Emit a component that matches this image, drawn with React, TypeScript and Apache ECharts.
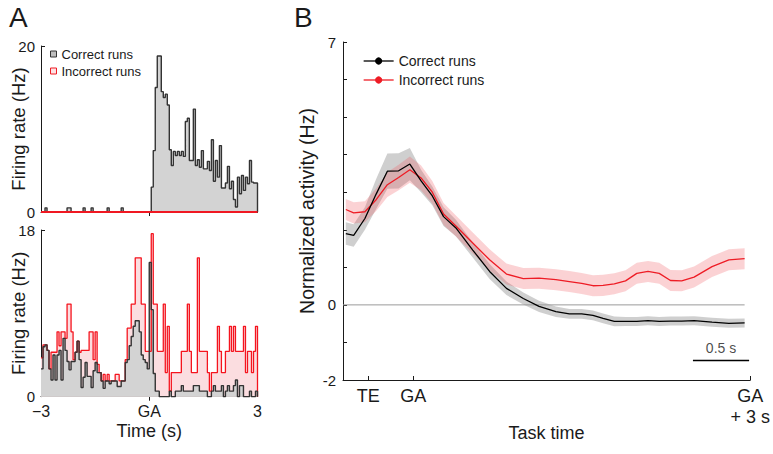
import React, { useEffect, useRef } from "react";
import * as echarts from "echarts";

// ---------- Panel A: peri-event histograms (bins of 1/18 s from -3 s to +3 s around GA) ----------
const BIN_WIDTH = 1 / 18;
const HIST_START = -3;

const topCorrectRate = [
  0, 0, 0.5, 0, 0, 0, 0, 0, 0, 0,
  0, 0, 0, 0.5, 0.5, 0, 0, 0, 0, 0,
  0, 0.5, 0, 0, 0, 0.5, 0, 0, 0, 0,
  0, 0, 0, 0.5, 0, 0, 0, 0, 0, 0,
  0.5, 0, 0, 0, 0, 0, 0, 0, 0, 0,
  0, 0, 0, 0,
  0, 3, 7.4, 15, 18.8, 18.8, 14.5, 13.8, 14.2, 12.9,
  7.5, 5.6, 7.3, 6.8, 7.3, 6.8, 7.3, 6.7, 10.9, 11.3,
  6.2, 6.2, 12.4, 5.6, 6.3, 5.4, 7.4, 5.2, 5.2, 6.1,
  5.0, 8.7, 3.7, 6.2, 4.2, 8.0, 2.9, 2.9, 3.5, 5.5,
  2.8, 3.7, 1.5, 0.6, 4.2, 2.2, 4.4, 2.6, 4.2, 3.4,
  6.2, 3.6, 3.5, 3.5,
];

const topIncorrectRate = [
  0, 0, 0, 0, 0, 0, 0, 0, 0, 0,
  0, 0, 0, 0, 0, 0, 0, 0, 0, 0,
  0, 0, 0, 0, 0, 0, 0, 0, 0, 0,
  0, 0, 0, 0, 0, 0, 0, 0, 0, 0,
  0, 0, 0, 0, 0, 0, 0, 0, 0, 0,
  0, 0, 0, 0, 0, 0, 0, 0, 0, 0,
  0, 0, 0, 0, 0, 0, 0, 0, 0, 0,
  0, 0, 0, 0, 0, 0, 0, 0, 0, 0,
  0, 0, 0, 0, 0, 0, 0, 0, 0, 0,
  0, 0, 0, 0, 0, 0, 0, 0, 0, 0,
  0, 0, 0, 0, 0, 0, 0, 0,
];

const bottomCorrectRate = [
  3.0, 5.4, 5.6, 5.0, 3.0, 1.8, 4.5, 1.8, 4.5, 5.0,
  1.8, 6.3, 5.0, 3.8, 2.9, 3.8, 3.8, 4.8, 6.0, 4.0,
  1.0, 2.1, 3.7, 2.2, 2.2, 1.0, 2.8, 3.7, 2.6, 2.6,
  1.7, 0.9, 1.7, 1.7, 1.4, 1.7, 1.7, 1.7, 1.1, 1.1,
  1.7, 1.7, 3.7, 4.0, 5.5, 6.5, 7.6, 8.2, 8.2, 7.0,
  4.5, 4.0, 3.7, 3.0,
  14.5, 9.4, 2.5, 0.6, 0.6, 0, 0, 0, 0, 0,
  0.6, 0, 0, 0.6, 0.6, 0.6, 1.2, 0.6, 0.6, 0.6,
  0.6, 0.6, 1.2, 1.2, 1.2, 0.6, 0.6, 0.6, 0.6, 0,
  0, 0.6, 1.2, 0.6, 0.6, 0.6, 1.2, 0, 0.6, 1.2,
  0.6, 0.6, 1.2, 1.8, 0, 1.2, 1.2, 0, 0, 0,
  0.6, 0, 0, 0.6,
];

const bottomIncorrectRate = [
  4.2, 5.6, 5.6, 5.0, 3.0, 4.8, 4.8, 4.8, 7.0, 5.5,
  7.0, 7.0, 6.3, 10.0, 10.0, 7.0, 4.0, 4.8, 6.0, 4.8,
  5.0, 5.0, 5.0, 5.0, 7.0, 7.0, 4.0, 7.0, 3.5, 2.6,
  1.7, 2.4, 1.7, 2.4, 1.7, 1.7, 1.7, 2.4, 2.4, 1.7,
  1.7, 1.7, 4.0, 7.4, 7.4, 10.0, 10.0, 15.0, 15.0, 15.0,
  10.0, 10.0, 4.9, 4.9,
  4.9, 17.6, 10.0, 10.0, 4.9, 4.9, 4.9, 10.0, 2.6, 7.6,
  0.6, 2.6, 2.6, 2.6, 2.6, 2.6, 4.9, 4.9, 4.9, 10.0,
  4.9, 2.6, 2.6, 2.6, 15.0, 4.9, 4.9, 4.9, 4.9, 2.6,
  0.6, 2.6, 2.6, 2.6, 7.6, 4.9, 2.6, 2.6, 4.9, 4.9,
  7.6, 4.9, 7.6, 4.9, 4.9, 4.9, 4.9, 7.6, 2.6, 4.9,
  4.9, 2.6, 4.9, 7.6,
];

const histTickValues = [-3, 0, 3];
const histTickLabels = ["\u22123", "GA", "3"];

// ---------- Panel B: normalized population activity (time in s relative to GA) ----------
const taskTime = [
  -0.6, -0.53, -0.43, -0.33, -0.23, -0.13, -0.03, 0.07, 0.17, 0.27,
  0.38, 0.53, 0.68, 0.83, 0.98, 1.12, 1.27, 1.39, 1.5, 1.6,
  1.69, 1.79, 1.89, 1.99, 2.09, 2.19, 2.29, 2.39, 2.5, 2.66,
  2.81, 2.95,
];
const correctMean = [
  1.9, 1.85, 2.3, 2.95, 3.56, 3.57, 3.75, 3.3, 2.9, 2.35,
  2.05, 1.46, 0.89, 0.44, 0.17, -0.04, -0.18, -0.24, -0.24, -0.28,
  -0.36, -0.44, -0.44, -0.44, -0.42, -0.44, -0.43, -0.43, -0.42, -0.46,
  -0.49, -0.48,
];
const correctSem = [
  0.3, 0.3, 0.3, 0.4, 0.47, 0.47, 0.43, 0.3, 0.25, 0.25,
  0.22, 0.2, 0.2, 0.18, 0.16, 0.15, 0.14, 0.13, 0.13, 0.13,
  0.13, 0.13, 0.12, 0.12, 0.12, 0.12, 0.12, 0.12, 0.12, 0.12,
  0.12, 0.12,
];
const incorrectMean = [
  2.54, 2.45, 2.48, 2.8, 3.2, 3.39, 3.6, 3.38, 3.0, 2.42,
  2.1, 1.65, 1.2, 0.82, 0.7, 0.71, 0.67, 0.62, 0.57, 0.51,
  0.52, 0.56, 0.64, 0.84, 0.89, 0.84, 0.65, 0.64, 0.74, 1.02,
  1.2, 1.23,
];
const incorrectSem = [
  0.28, 0.28, 0.28, 0.3, 0.33, 0.34, 0.35, 0.33, 0.3, 0.29,
  0.28, 0.28, 0.28, 0.28, 0.28, 0.28, 0.28, 0.28, 0.28, 0.28,
  0.28, 0.28, 0.28, 0.28, 0.28, 0.28, 0.28, 0.28, 0.28, 0.28,
  0.28, 0.28,
];

const taskTickValues = [-0.4, 0, 3];
const taskTickLabels = ["TE", "GA", "GA\n+ 3 s"];
const activityLabelValues = [7, 0, -2];
const TASK_MIN = -0.625;
const TASK_MAX = 3;
const SCALE_BAR = { from: 2.49, to: 2.99, level: -1.48, label: "0.5 s" };

const FONT = "'Liberation Sans', Arial, Helvetica, sans-serif";
const INK = "#1a1a1a";
const RED = "#ee1c25";

function histSteps(values: number[]) {
  const pts: number[][] = values.map((v, i) => [HIST_START + i * BIN_WIDTH, v]);
  const end = HIST_START + values.length * BIN_WIDTH;
  pts.push([end, values[values.length - 1]]);
  pts.push([end, 0]);
  return pts;
}

function pickLabel(values: number[], labels: string[], v: number) {
  for (let i = 0; i < values.length; i++) {
    if (Math.abs(values[i] - v) < 1e-6) return labels[i];
  }
  return "";
}

function bandSeries(name: string, mean: number[], sem: number[], fill: string) {
  return {
    name,
    type: "custom",
    xAxisIndex: 2,
    yAxisIndex: 2,
    silent: true,
    data: taskTime.map((t, i) => [t, mean[i] - sem[i], mean[i] + sem[i]]),
    encode: { x: 0, y: [1, 2] },
    renderItem: (params: any, api: any) => {
      if (params.dataIndex !== 0) return null;
      const pts: number[][] = [];
      for (let i = 0; i < taskTime.length; i++) pts.push(api.coord([taskTime[i], mean[i] + sem[i]]));
      for (let i = taskTime.length - 1; i >= 0; i--) pts.push(api.coord([taskTime[i], mean[i] - sem[i]]));
      return { type: "polygon", shape: { points: pts }, style: { fill, stroke: "none" }, silent: true };
    },
  };
}

const axisLineStyle = { show: true, onZero: false, lineStyle: { color: INK, width: 1 } };

export default function App() {
  const ref = useRef<HTMLDivElement>(null);

  useEffect(() => {
    document.body.style.margin = "0";
    if (!ref.current) return;
    const chart = echarts.init(ref.current, null, { renderer: "svg" });

    const option: any = {
      animation: false,
      textStyle: { fontFamily: FONT, color: INK },
      title: [
        { text: "A", left: 9, top: 3, padding: 0, textStyle: { fontSize: 28, fontWeight: "normal", color: INK, fontFamily: FONT } },
        { text: "B", left: 294, top: 3, padding: 0, textStyle: { fontSize: 28, fontWeight: "normal", color: INK, fontFamily: FONT } },
      ],
      legend: [
        {
          left: 50,
          top: 47.5,
          padding: 0,
          orient: "vertical",
          itemWidth: 6,
          itemHeight: 6,
          itemGap: 4,
          selectedMode: false,
          textStyle: { fontSize: 13, color: INK, fontFamily: FONT },
          data: [
            { name: "Correct runs", icon: "rect", itemStyle: { color: "#bdbdbd", borderColor: "#333", borderWidth: 1 } },
            { name: "Incorrect runs", icon: "rect", itemStyle: { color: "#fde2e4", borderColor: RED, borderWidth: 1 } },
          ],
        },
        {
          left: 363,
          top: 54,
          padding: 0,
          orient: "vertical",
          itemWidth: 30,
          itemHeight: 9,
          itemGap: 5,
          selectedMode: false,
          textStyle: { fontSize: 14, color: INK, fontFamily: FONT },
          data: [
            { name: "Correct runs", itemStyle: { color: "#000", borderWidth: 0 }, lineStyle: { color: "#000", width: 1.3 } },
            { name: "Incorrect runs", itemStyle: { color: RED, borderWidth: 0 }, lineStyle: { color: RED, width: 1.3 } },
          ],
        },
      ],
      grid: [
        { left: 41, top: 46, width: 216.5, height: 166 },
        { left: 41, top: 230, width: 216.5, height: 166.7 },
        { left: 343, top: 42, width: 408.7, height: 338 },
      ],
      xAxis: [
        {
          gridIndex: 0, type: "value", min: -3, max: 3, interval: 3,
          axisLine: axisLineStyle,
          axisTick: { show: true, customValues: [0], length: 4, lineStyle: { color: INK } },
          axisLabel: { show: false },
          splitLine: { show: false },
        },
        {
          gridIndex: 1, type: "value", min: -3, max: 3, interval: 3,
          axisLine: axisLineStyle,
          axisTick: { show: true, customValues: [0], length: 4, lineStyle: { color: INK } },
          axisLabel: {
            fontSize: 16, color: INK, margin: 7,
            formatter: (v: number) => pickLabel(histTickValues, histTickLabels, v),
          },
          splitLine: { show: false },
          name: "Time (s)", nameLocation: "middle", nameGap: 25, nameMoveOverlap: false,
          nameTextStyle: { fontSize: 18, color: INK },
        },
        {
          gridIndex: 2, type: "value", min: TASK_MIN, max: TASK_MAX,
          axisLine: axisLineStyle,
          axisTick: { show: true, inside: true, length: 4, customValues: taskTickValues, lineStyle: { color: INK } },
          axisLabel: {
            customValues: taskTickValues, fontSize: 18, lineHeight: 21, color: INK, margin: 5,
            formatter: (v: number) => pickLabel(taskTickValues, taskTickLabels, v),
          },
          splitLine: { show: false },
          name: "Task time", nameLocation: "middle", nameGap: 44, nameMoveOverlap: false,
          nameTextStyle: { fontSize: 18, color: INK },
        },
      ],
      yAxis: [
        {
          gridIndex: 0, type: "value", min: 0, max: 20, interval: 20,
          axisLine: axisLineStyle,
          axisTick: { show: true, inside: true, length: 4, lineStyle: { color: INK } },
          axisLabel: { fontSize: 15, color: INK, margin: 6 },
          splitLine: { show: false },
          name: "Firing rate (Hz)", nameLocation: "middle", nameGap: 13, nameMoveOverlap: false,
          nameTextStyle: { fontSize: 18.5, color: INK },
        },
        {
          gridIndex: 1, type: "value", min: 0, max: 18, interval: 18,
          axisLine: axisLineStyle,
          axisTick: { show: true, inside: true, length: 4, lineStyle: { color: INK } },
          axisLabel: { fontSize: 15, color: INK, margin: 6 },
          splitLine: { show: false },
          name: "Firing rate (Hz)", nameLocation: "middle", nameGap: 13, nameMoveOverlap: false,
          nameTextStyle: { fontSize: 18.5, color: INK },
        },
        {
          gridIndex: 2, type: "value", min: -2, max: 7, interval: 1,
          axisLine: axisLineStyle,
          axisTick: { show: true, inside: true, length: 4, lineStyle: { color: INK } },
          axisLabel: {
            fontSize: 15, color: INK, margin: 7,
            formatter: (v: number) => (activityLabelValues.indexOf(v) >= 0 ? String(v) : ""),
          },
          splitLine: { show: false },
          name: "Normalized activity (Hz)", nameLocation: "middle", nameGap: 26, nameMoveOverlap: false,
          nameTextStyle: { fontSize: 19.5, color: INK },
        },
      ],
      series: [
        // Panel A, top
        {
          name: "Correct runs", type: "line", xAxisIndex: 0, yAxisIndex: 0,
          data: histSteps(topCorrectRate), step: "end", symbol: "none",
          lineStyle: { color: "#333", width: 1.4 }, itemStyle: { color: "#333" },
          areaStyle: { color: "#d3d3d3", opacity: 1 },
        },
        {
          name: "Incorrect runs", type: "line", xAxisIndex: 0, yAxisIndex: 0, z: 5,
          data: histSteps(topIncorrectRate), step: "end", symbol: "none",
          lineStyle: { color: "#f01822", width: 1.8 }, itemStyle: { color: "#f01822" },
        },
        // Panel A, bottom
        {
          name: "Incorrect runs", type: "line", xAxisIndex: 1, yAxisIndex: 1,
          data: histSteps(bottomIncorrectRate), step: "end", symbol: "none",
          lineStyle: { color: "#f5141e", width: 1.3 }, itemStyle: { color: "#f5141e" },
          areaStyle: { color: "#fbdde0", opacity: 1 },
        },
        {
          name: "Correct runs", type: "line", xAxisIndex: 1, yAxisIndex: 1,
          data: histSteps(bottomCorrectRate), step: "end", symbol: "none",
          lineStyle: { color: "#333", width: 1.4 }, itemStyle: { color: "#333" },
          areaStyle: { color: "#d3d3d3", opacity: 1 },
        },
        // Panel B
        {
          name: "zero", type: "line", xAxisIndex: 2, yAxisIndex: 2, silent: true,
          data: [[TASK_MIN, 0], [taskTime[taskTime.length - 1], 0]], symbol: "none",
          lineStyle: { color: "#9a9a9a", width: 1 },
        },
        bandSeries("correct-band", correctMean, correctSem, "rgba(140,140,140,0.42)"),
        bandSeries("incorrect-band", incorrectMean, incorrectSem, "rgba(238,80,90,0.26)"),
        {
          name: "Incorrect runs", type: "line", xAxisIndex: 2, yAxisIndex: 2,
          data: taskTime.map((t, i) => [t, incorrectMean[i]]),
          symbol: "circle", showSymbol: false,
          lineStyle: { color: RED, width: 1.3 }, itemStyle: { color: RED },
        },
        {
          name: "Correct runs", type: "line", xAxisIndex: 2, yAxisIndex: 2,
          data: taskTime.map((t, i) => [t, correctMean[i]]),
          symbol: "circle", showSymbol: false,
          lineStyle: { color: "#000", width: 1.3 }, itemStyle: { color: "#000" },
        },
        {
          name: "scale-bar", type: "line", xAxisIndex: 2, yAxisIndex: 2, silent: true,
          data: [[SCALE_BAR.from, SCALE_BAR.level], [SCALE_BAR.to, SCALE_BAR.level]],
          symbol: "none", lineStyle: { color: "#000", width: 1.5 },
        },
        {
          name: "scale-label", type: "scatter", xAxisIndex: 2, yAxisIndex: 2, silent: true,
          data: [[(SCALE_BAR.from + SCALE_BAR.to) / 2, SCALE_BAR.level]],
          symbolSize: 0,
          label: { show: true, position: "top", distance: 5, formatter: SCALE_BAR.label, fontSize: 14, color: INK, fontFamily: FONT },
        },
      ],
    };

    chart.setOption(option);
    return () => chart.dispose();
  }, []);

  return <div ref={ref} style={{ width: 773, height: 454 }} />;
}
